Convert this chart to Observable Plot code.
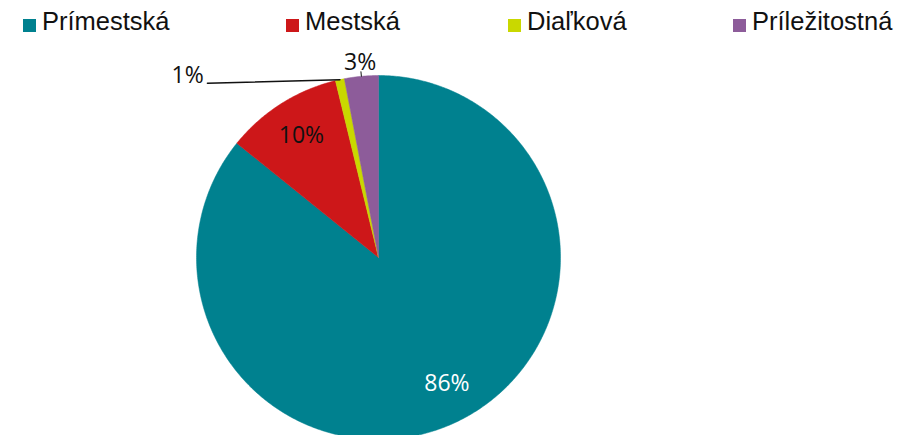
<!DOCTYPE html>
<html><head><meta charset="utf-8">
<script src="https://cdn.jsdelivr.net/npm/d3@7"></script>
<script src="https://cdn.jsdelivr.net/npm/@observablehq/plot@0.6"></script>
<style>
body{margin:0;background:#fff;width:900px;height:435px;overflow:hidden;font-family:"Liberation Sans",Arial,sans-serif;}
#legend{position:relative;height:50px;}
.li{position:absolute;top:9px;font-size:25.5px;color:#111;white-space:nowrap;line-height:30px;}
.sw{position:absolute;width:13px;height:13px;top:10px;}
#chart svg{overflow:visible;}
</style></head><body>
<div id="legend"></div>
<div id="chart"></div>
<script>
const categories = ["Prímestská", "Mestská", "Diaľková", "Príležitostná"];
const values = [85.8, 10.4, 0.8, 3.0];
const labels = ["86%", "10%", "1%", "3%"];
const colors = ["#00818F", "#CD1719", "#C9D800", "#8D5C9A"];

// legend
const legendX = [23, 286, 508, 733];
const lg = document.getElementById("legend");
categories.forEach((c, i) => {
  const sw = document.createElement("div");
  sw.className = "sw"; sw.style.left = legendX[i] + "px"; sw.style.top = "19px"; sw.style.background = colors[i];
  lg.appendChild(sw);
  const t = document.createElement("div");
  t.className = "li"; t.style.left = (legendX[i] + 19) + "px"; t.style.top = "6px"; t.textContent = c;
  lg.appendChild(t);
});

// pie geometry from data
const total = d3.sum(values);
let acc = 0;
const slices = values.map((v, i) => {
  const a0 = acc / total * 2 * Math.PI; acc += v;
  const a1 = acc / total * 2 * Math.PI;
  return {cat: categories[i], a0, a1, mid: (a0 + a1) / 2, label: labels[i], color: colors[i]};
});
const pts = [];
slices.forEach(s => {
  pts.push({cat: s.cat, x: 0, y: 0});
  const n = Math.max(2, Math.ceil((s.a1 - s.a0) / 0.01));
  for (let k = 0; k <= n; k++) {
    const a = s.a0 + (s.a1 - s.a0) * k / n;
    pts.push({cat: s.cat, x: Math.sin(a), y: Math.cos(a)});
  }
  pts.push({cat: s.cat, x: 0, y: 0});
});

const inside = [slices[0], slices[1]].map(s => ({x: 0.79 * Math.sin(s.mid - (s === slices[0] ? 0.05 : 0)), y: 0.79 * Math.cos(s.mid - (s === slices[0] ? 0.05 : 0)), text: s.label, fill: s === slices[0] ? "#fff" : "#111"}));
const s3 = slices[3];
const lab3 = {x: 1.075 * Math.sin(s3.mid), y: 1.075 * Math.cos(s3.mid), text: s3.label};
const tick3 = [{x: Math.sin(s3.mid), y: Math.cos(s3.mid)}, {x: 1.025 * Math.sin(s3.mid), y: 1.025 * Math.cos(s3.mid)}];
const s2 = slices[2];
const leader = [{x: Math.sin(s2.mid), y: Math.cos(s2.mid)}, {x: -0.94, y: Math.cos(s2.mid) - 0.02}];
const lab2 = {x: -0.96, y: Math.cos(s2.mid) + 0.02, text: s2.label};

const cx = 378, cy = 207, R = 182;
const plot = Plot.plot({
  width: 900, height: 385, margin: 0,
  x: {domain: [-1, 1], range: [cx - R, cx + R], axis: null},
  y: {domain: [-1, 1], range: [cy + R, cy - R], axis: null},
  color: {domain: categories, range: colors},
  marks: [
    Plot.line(pts, {x: "x", y: "y", z: "cat", fill: "cat", stroke: "cat", strokeWidth: 0.5, curve: "linear"}),
    Plot.text(inside, {x: "x", y: "y", text: "text", fill: "fill", fontSize: 23, fontFamily: "Open Sans"}),
    Plot.line(tick3, {x: "x", y: "y", stroke: "#111", strokeWidth: 1}),
    Plot.text([lab3], {x: "x", y: "y", text: "text", fill: "#111", fontSize: 23, fontFamily: "Open Sans"}),
    Plot.line(leader, {x: "x", y: "y", stroke: "#111", strokeWidth: 1.5}),
    Plot.text([lab2], {x: "x", y: "y", text: "text", fill: "#111", fontSize: 23, fontFamily: "Open Sans", textAnchor: "end"})
  ]
});
document.getElementById("chart").appendChild(plot);
</script>
</body></html>
